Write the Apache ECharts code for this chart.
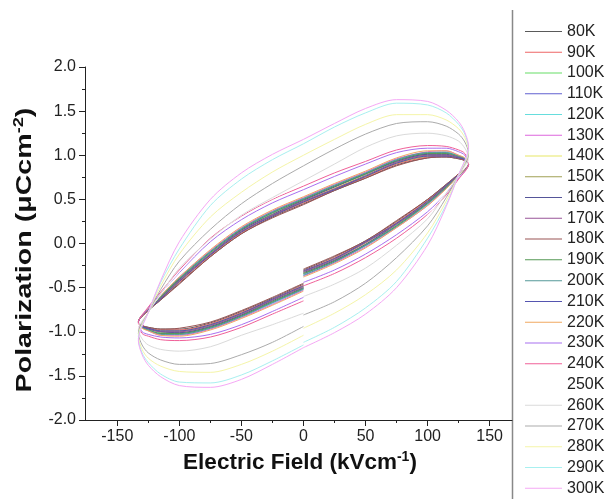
<!DOCTYPE html>
<html>
<head>
<meta charset="utf-8">
<script src="https://cdn.jsdelivr.net/npm/echarts@6/dist/echarts.min.js"></script>
<style>html,body{margin:0;padding:0;background:#fff}#c{width:610px;height:499px}</style>
</head>
<body>
<div id="c"></div>
<script>
// Electric field sweep (kV/cm): 0 -> +Emax -> -Emax -> 0
const field = [0,25,50,75,100,115,125,133, 130,125,115,100,75,50,25,0,-25,-50,-75,-100,-115,-125,-133, -130,-125,-115,-100,-75,-50,-25,0];
const temps = ['80K','90K','100K','110K','120K','130K','140K','150K','160K','170K','180K','190K','200K','210K','220K','230K','240K','250K','260K','270K','280K','290K','300K'];
// Polarization (uC/cm2) per temperature
const p80  = [-0.30,-0.15,0.03,0.25,0.50,0.67,0.79,0.90, 0.94,0.96,0.98,0.97,0.89,0.74,0.60,0.45,0.30,0.11,-0.15,-0.45,-0.64,-0.76,-0.89, -0.93,-0.95,-0.97,-0.97,-0.90,-0.77,-0.62,-0.46];
const p90  = [-0.31,-0.16,0.02,0.24,0.49,0.66,0.79,0.90, 0.94,0.97,0.99,0.98,0.90,0.75,0.61,0.46,0.31,0.12,-0.14,-0.44,-0.63,-0.76,-0.89, -0.93,-0.96,-0.98,-0.98,-0.91,-0.78,-0.63,-0.47];
const p100 = [-0.34,-0.19,-0.01,0.21,0.46,0.65,0.78,0.90, 0.95,0.98,1.02,1.01,0.93,0.78,0.64,0.49,0.34,0.15,-0.11,-0.41,-0.62,-0.75,-0.89, -0.94,-0.97,-1.01,-1.01,-0.94,-0.81,-0.66,-0.50];
const p110 = [-0.35,-0.20,-0.02,0.20,0.45,0.64,0.77,0.90, 0.96,0.99,1.03,1.02,0.94,0.79,0.65,0.50,0.35,0.16,-0.10,-0.40,-0.61,-0.74,-0.89, -0.95,-0.98,-1.02,-1.02,-0.95,-0.82,-0.67,-0.51];
const p120 = [-0.36,-0.21,-0.03,0.19,0.44,0.63,0.77,0.90, 0.96,0.99,1.04,1.03,0.95,0.80,0.66,0.51,0.36,0.17,-0.09,-0.39,-0.60,-0.74,-0.89, -0.95,-0.98,-1.03,-1.03,-0.96,-0.83,-0.68,-0.52];
const p130 = [-0.37,-0.22,-0.04,0.18,0.43,0.63,0.77,0.90, 0.96,1.00,1.05,1.04,0.96,0.81,0.67,0.52,0.37,0.18,-0.08,-0.38,-0.60,-0.74,-0.89, -0.95,-0.99,-1.04,-1.04,-0.97,-0.84,-0.69,-0.53];
const p140 = [-0.33,-0.18,0.00,0.22,0.47,0.65,0.78,0.90, 0.95,0.98,1.01,1.00,0.92,0.77,0.63,0.48,0.33,0.14,-0.12,-0.42,-0.62,-0.75,-0.89, -0.94,-0.97,-1.00,-1.00,-0.93,-0.80,-0.65,-0.49];
const p150 = [-0.32,-0.17,0.01,0.23,0.48,0.66,0.78,0.90, 0.95,0.97,1.00,0.99,0.91,0.76,0.62,0.47,0.32,0.13,-0.13,-0.43,-0.63,-0.75,-0.89, -0.94,-0.96,-0.99,-0.99,-0.92,-0.79,-0.64,-0.48];
const p160 = [-0.33,-0.19,-0.01,0.22,0.46,0.65,0.78,0.90, 0.95,0.98,1.01,1.01,0.93,0.79,0.64,0.49,0.33,0.15,-0.12,-0.41,-0.62,-0.75,-0.89, -0.94,-0.97,-1.00,-1.01,-0.94,-0.81,-0.65,-0.50];
const p170 = [-0.32,-0.18,0.01,0.22,0.47,0.65,0.78,0.90, 0.95,0.98,1.00,1.00,0.92,0.77,0.62,0.48,0.32,0.14,-0.12,-0.42,-0.62,-0.75,-0.89, -0.94,-0.96,-1.00,-1.00,-0.93,-0.80,-0.64,-0.49];
const p180 = [-0.29,-0.14,0.03,0.26,0.50,0.67,0.79,0.90, 0.94,0.96,0.98,0.97,0.88,0.74,0.60,0.44,0.29,0.11,-0.15,-0.46,-0.64,-0.76,-0.89, -0.93,-0.95,-0.97,-0.96,-0.89,-0.76,-0.61,-0.45];
const p190 = [-0.34,-0.20,-0.02,0.20,0.46,0.64,0.77,0.90, 0.96,0.99,1.02,1.02,0.94,0.79,0.65,0.50,0.35,0.16,-0.10,-0.40,-0.61,-0.74,-0.89, -0.95,-0.98,-1.02,-1.02,-0.95,-0.82,-0.66,-0.51];
const p200 = [-0.36,-0.21,-0.02,0.19,0.45,0.63,0.77,0.90, 0.96,0.99,1.03,1.03,0.95,0.80,0.66,0.51,0.36,0.17,-0.09,-0.39,-0.60,-0.74,-0.89, -0.95,-0.98,-1.03,-1.03,-0.96,-0.83,-0.67,-0.52];
const p210 = [-0.31,-0.17,0.02,0.23,0.48,0.66,0.78,0.90, 0.95,0.97,0.99,0.99,0.91,0.76,0.61,0.47,0.31,0.13,-0.13,-0.43,-0.63,-0.75,-0.89, -0.94,-0.96,-0.99,-0.99,-0.92,-0.79,-0.63,-0.48];
const p220 = [-0.38,-0.23,-0.05,0.18,0.43,0.62,0.77,0.90, 0.97,1.00,1.05,1.05,0.97,0.82,0.68,0.53,0.38,0.19,-0.07,-0.38,-0.59,-0.74,-0.89, -0.96,-0.99,-1.04,-1.05,-0.98,-0.85,-0.70,-0.54];
const p230 = [-0.44,-0.30,-0.12,0.10,0.36,0.57,0.74,0.90, 1.00,1.04,1.08,1.08,1.03,0.90,0.76,0.61,0.46,0.27,0.02,-0.33,-0.57,-0.73,-0.90, -1.00,-1.03,-1.06,-1.07,-1.03,-0.92,-0.77,-0.61];
const p240 = [-0.48,-0.34,-0.16,0.06,0.33,0.55,0.73,0.90, 1.02,1.06,1.10,1.11,1.06,0.93,0.80,0.65,0.50,0.31,0.06,-0.30,-0.55,-0.72,-0.90, -1.02,-1.05,-1.09,-1.10,-1.06,-0.95,-0.80,-0.65];
const p250 = [-0.54,-0.40,-0.24,-0.02,0.32,0.58,0.77,0.94, 1.04,1.10,1.16,1.18,1.14,1.01,0.84,0.67,0.51,0.32,0.04,-0.32,-0.58,-0.77,-0.94, -1.04,-1.10,-1.15,-1.17,-1.12,-1.00,-0.86,-0.71];
const p260 = [-0.60,-0.46,-0.28,-0.02,0.28,0.57,0.78,0.98, 1.08,1.16,1.22,1.25,1.22,1.09,0.90,0.71,0.52,0.32,0.05,-0.28,-0.57,-0.78,-0.98, -1.08,-1.15,-1.20,-1.22,-1.17,-1.04,-0.92,-0.79];
const p270 = [-0.81,-0.66,-0.45,-0.16,0.20,0.52,0.78,1.02, 1.15,1.24,1.33,1.38,1.36,1.24,1.07,0.88,0.68,0.45,0.16,-0.20,-0.52,-0.78,-1.02, -1.15,-1.24,-1.32,-1.37,-1.36,-1.26,-1.12,-0.94];
const p280 = [-0.96,-0.79,-0.58,-0.30,0.12,0.48,0.78,1.05, 1.20,1.30,1.40,1.46,1.46,1.35,1.18,1.00,0.81,0.58,0.30,-0.12,-0.48,-0.78,-1.05, -1.20,-1.30,-1.39,-1.45,-1.46,-1.37,-1.22,-1.04];
const p290 = [-1.12,-0.95,-0.73,-0.43,0.06,0.44,0.78,1.08, 1.24,1.35,1.48,1.57,1.59,1.48,1.32,1.13,0.95,0.73,0.43,-0.06,-0.44,-0.78,-1.08, -1.24,-1.35,-1.48,-1.57,-1.58,-1.49,-1.33,-1.15];
const p300 = [-1.18,-1.01,-0.80,-0.50,-0.02,0.42,0.78,1.10, 1.26,1.38,1.51,1.61,1.63,1.53,1.36,1.18,1.01,0.80,0.50,0.02,-0.42,-0.78,-1.10, -1.26,-1.38,-1.51,-1.61,-1.63,-1.54,-1.37,-1.18];
const xMajorTicks = [-150,-100,-50,0,50,100,150];
const xMinorTicks = [-125,-75,-25,25,75,125];

const pol = [p80,p90,p100,p110,p120,p130,p140,p150,p160,p170,p180,p190,p200,p210,p220,p230,p240,p250,p260,p270,p280,p290,p300];
const colors = ['#5a5a5a','#ee6666','#66dd66','#6060d0','#66dddd','#dd66dd','#e8e866','#a0a055','#555599','#995599','#995555','#559955','#559999','#5555b0','#f0a860','#a870f0','#f06098','#ffffff','#dadada','#ababab','#f5f5a8','#a8f0f0','#f5a8f5'];

const font = 'Liberation Sans, Arial, sans-serif';
const chart = echarts.init(document.getElementById('c'), null, {renderer:'canvas'});
chart.setOption({
  animation: false,
  backgroundColor: '#fff',
  grid: {left: 85, right: 98, top: 67, bottom: 79, containLabel: false},
  xAxis: [{
    type: 'value', min: -176, max: 168,
    axisLine: {show: true, onZero: false, lineStyle: {color: '#222', width: 1}},
    axisTick: {show: true, customValues: xMajorTicks, length: 6, lineStyle: {color: '#222'}},
    axisLabel: {customValues: xMajorTicks, fontSize: 16, color: '#222', margin: 9, fontFamily: font},
    splitLine: {show: false}
  }, {
    type: 'value', min: -176, max: 168, position: 'bottom',
    axisLine: {show: false, onZero: false},
    axisTick: {show: true, customValues: xMinorTicks, length: 3, lineStyle: {color: '#222'}},
    axisLabel: {show: false},
    splitLine: {show: false}
  }],
  yAxis: {
    type: 'value', min: -2, max: 2, interval: 0.5,
    axisLine: {show: true, onZero: false, lineStyle: {color: '#222', width: 1}},
    axisTick: {show: true, length: 6, lineStyle: {color: '#222'}},
    minorTick: {show: true, splitNumber: 2, length: 3, lineStyle: {color: '#222'}},
    axisLabel: {fontSize: 16, color: '#222', margin: 9, fontFamily: font, formatter: v => v.toFixed(1)},
    splitLine: {show: false}
  },
  legend: {
    orient: 'vertical', left: 525, top: 21, padding: 0,
    icon: 'rect', itemWidth: 37, itemHeight: 1, itemGap: 0,
    textStyle: {fontSize: 16, lineHeight: 20.77, color: '#222', fontFamily: font},
    data: temps
  },
  graphic: [
    {type: 'line', shape: {x1: 512.5, y1: 10, x2: 512.5, y2: 499}, style: {stroke: '#888', lineWidth: 1.5}},
    {type: 'text', x: 25, y: 250, rotation: Math.PI / 2, scaleX: 1.3,
      style: {text: '{a|Polarization (μCcm}{s|-2}{a|)}', align: 'center', verticalAlign: 'middle',
        rich: {a: {fontSize: 22, fontWeight: 'bold', fontFamily: font, fill: '#111', lineHeight: 26},
               s: {fontSize: 14, fontWeight: 'bold', fontFamily: font, fill: '#111', lineHeight: 26, verticalAlign: 'top'}}}},
    {type: 'text', x: 300, y: 463,
      style: {text: '{a|Electric Field (kVcm}{s|-1}{a|)}', align: 'center', verticalAlign: 'middle',
        rich: {a: {fontSize: 22.5, fontWeight: 'bold', fontFamily: font, fill: '#111', lineHeight: 26},
               s: {fontSize: 14, fontWeight: 'bold', fontFamily: font, fill: '#111', lineHeight: 26, verticalAlign: 'top'}}}}
  ],
  series: temps.map((name, i) => ({
    name: name, type: 'line', symbol: 'none', smooth: 0.3,
    lineStyle: {width: 1, color: colors[i]}, itemStyle: {color: colors[i]},
    data: field.map((e, j) => [e, pol[i][j]])
  }))
});
</script>
</body>
</html>
